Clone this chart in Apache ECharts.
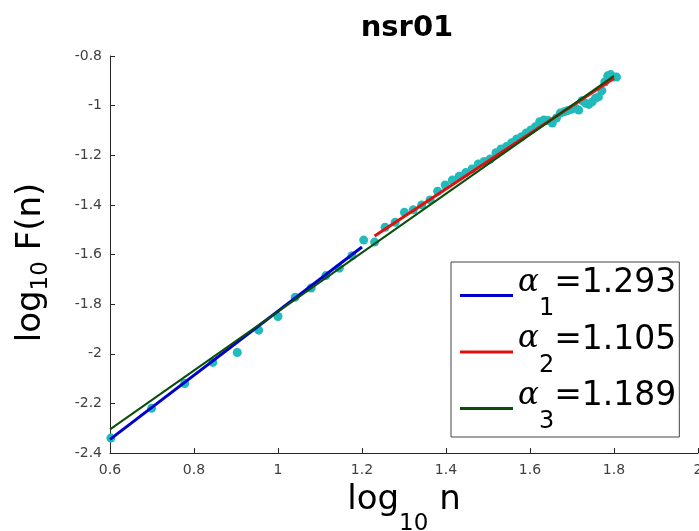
<!DOCTYPE html>
<html>
<head>
<meta charset="utf-8">
<script src="https://cdn.jsdelivr.net/npm/echarts@6/dist/echarts.min.js"></script>
<style>html,body{margin:0;padding:0;background:#fff;}#c{width:699px;height:531px;}</style>
</head>
<body>
<div id="c"></div>
<script>
// log10 n values (n = 4..64)
const xValues = [0.602,0.699,0.778,0.845,0.903,0.954,1.000,1.041,1.079,1.114,1.146,1.176,1.204,1.230,1.255,1.279,1.301,1.322,1.342,1.362,1.380,1.398,1.415,1.431,1.447,1.462,1.477,1.491,1.505,1.519,1.531,1.544,1.556,1.568,1.580,1.591,1.602,1.613,1.623,1.633,1.643,1.653,1.663,1.672,1.681,1.690,1.699,1.708,1.716,1.724,1.732,1.740,1.748,1.756,1.763,1.771,1.778,1.785,1.792,1.799,1.806];
// log10 F(n) values
const yValues = [-2.34,-2.22,-2.12,-2.035,-1.995,-1.905,-1.85,-1.772,-1.735,-1.685,-1.655,-1.605,-1.542,-1.55,-1.49,-1.47,-1.43,-1.42,-1.40,-1.38,-1.345,-1.32,-1.30,-1.285,-1.27,-1.255,-1.235,-1.225,-1.215,-1.19,-1.175,-1.165,-1.15,-1.135,-1.125,-1.11,-1.098,-1.085,-1.065,-1.058,-1.06,-1.07,-1.05,-1.03,-1.025,-1.02,-1.015,-1.01,-1.018,-0.98,-0.99,-0.995,-0.985,-0.97,-0.965,-0.94,-0.905,-0.88,-0.875,-0.885,-0.885];
// fitted lines (endpoints)
const fit1X = [0.6, 1.2],  fit1Y = [-2.345, -1.57];
const fit2X = [1.23, 1.8], fit2Y = [-1.525, -0.89];
const fit3X = [0.6, 1.8],  fit3Y = [-2.305, -0.88];
const alphaIdx = ['1', '2', '3'];
const alphaVal = ['1.293', '1.105', '1.189'];
const titleText = 'nsr01';

const pairs = (xs, ys) => xs.map((x, i) => [x, ys[i]]);
const seriesNames = alphaIdx.map(i => 'a' + i);

const chart = echarts.init(document.getElementById('c'));
chart.setOption({
  animation: false,
  backgroundColor: '#fff',
  title: {
    text: titleText, left: 402, top: 9, textAlign: 'center',
    textStyle: { fontFamily: 'DejaVu Sans', fontWeight: 'bold', fontSize: 29, color: '#000' }
  },
  grid: { left: 110, right: 1, top: 56, bottom: 78, containLabel: false, outerBoundsMode: 'none' },
  xAxis: {
    type: 'value', min: 0.6, max: 2, interval: 0.2,
    name: '{m|log}{s|10}{m| n}', nameLocation: 'middle', nameGap: 30,
    nameTextStyle: {
      rich: {
        m: { fontFamily: 'DejaVu Sans', fontSize: 34, lineHeight: 34, verticalAlign: 'top', color: '#000' },
        s: { fontFamily: 'DejaVu Sans', fontSize: 23, lineHeight: 23, verticalAlign: 'top', padding: [30, 0, 0, 0], color: '#000' }
      }
    },
    axisLine: { lineStyle: { color: '#262626', width: 1 } },
    axisTick: { inside: true, length: 5, lineStyle: { color: '#262626' } },
    axisLabel: { fontFamily: 'DejaVu Sans', fontSize: 14, color: '#404040', margin: 10 },
    splitLine: { show: false }
  },
  yAxis: {
    type: 'value', min: -2.4, max: -0.8, interval: 0.2,
    name: '{m|log}{s|10}{m| F(n)}', nameLocation: 'middle', nameGap: 62, nameRotate: 90,
    nameTextStyle: {
      padding: [0, 16, 0, 0],
      rich: {
        m: { fontFamily: 'DejaVu Sans', fontSize: 34, lineHeight: 34, verticalAlign: 'top', color: '#000' },
        s: { fontFamily: 'DejaVu Sans', fontSize: 23, lineHeight: 23, verticalAlign: 'top', padding: [16, 0, 0, 0], color: '#000' }
      }
    },
    axisLine: { show: true, lineStyle: { color: '#262626', width: 1 } },
    axisTick: { show: true, inside: true, length: 5, lineStyle: { color: '#262626' } },
    axisLabel: { fontFamily: 'DejaVu Sans', fontSize: 14, color: '#404040', margin: 8 },
    splitLine: { show: false }
  },
  legend: {
    data: seriesNames,
    orient: 'vertical', left: 451, top: 262,
    padding: [5, 3, 3, 9], itemGap: 2.5,
    itemWidth: 53, itemHeight: 3, icon: 'rect',
    backgroundColor: '#fff', borderColor: '#444', borderWidth: 1, borderRadius: 0,
    formatter: name => {
      const i = seriesNames.indexOf(name);
      return '{a|α}{s|' + alphaIdx[i] + '}{m|=' + alphaVal[i] + '}';
    },
    textStyle: {
      padding: [0, 0, 24, 0],
      rich: {
        a: { fontFamily: 'DejaVu Serif', fontStyle: 'italic', fontSize: 31, lineHeight: 33, verticalAlign: 'top', color: '#000' },
        s: { fontFamily: 'DejaVu Sans', fontSize: 24, lineHeight: 24, verticalAlign: 'top', padding: [30, 0, 0, 0], color: '#000' },
        m: { fontFamily: 'DejaVu Sans', fontSize: 33, lineHeight: 33, verticalAlign: 'top', color: '#000' }
      }
    }
  },
  series: [
    { type: 'scatter', name: 'data', data: pairs(xValues, yValues), symbolSize: 9,
      itemStyle: { color: '#22bbbb', opacity: 1 }, z: 2 },
    { type: 'line', name: seriesNames[0], data: pairs(fit1X, fit1Y), showSymbol: false,
      lineStyle: { color: '#0000cc', width: 3 }, itemStyle: { color: '#0000cc' }, z: 3 },
    { type: 'line', name: seriesNames[1], data: pairs(fit2X, fit2Y), showSymbol: false,
      lineStyle: { color: '#e01010', width: 3 }, itemStyle: { color: '#e01010' }, z: 4 },
    { type: 'line', name: seriesNames[2], data: pairs(fit3X, fit3Y), showSymbol: false,
      lineStyle: { color: '#0b4d0b', width: 2 }, itemStyle: { color: '#0b4d0b' }, z: 5 }
  ]
});
</script>
</body>
</html>
